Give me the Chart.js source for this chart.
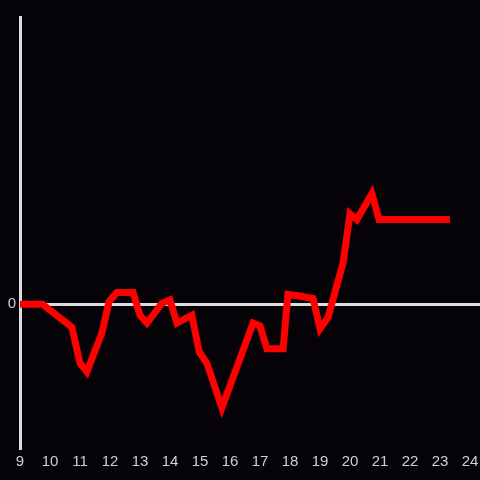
<!DOCTYPE html>
<html><head><meta charset="utf-8">
<script src="https://cdn.jsdelivr.net/npm/chart.js@4"></script>
<style>html,body{margin:0;padding:0;background:#050307;}#wrap{width:480px;height:480px;}</style>
</head><body><div id="wrap"><canvas id="c" width="480" height="480"></canvas></div>
<script>
const times = [9.0, 9.75, 10.73, 11.0, 11.23, 11.73, 11.97, 12.23, 12.77, 13.0, 13.23, 13.73, 14.0, 14.23, 14.73, 14.97, 15.23, 15.73, 16.77, 17.0, 17.23, 17.77, 17.93, 18.27, 18.77, 19.0, 19.27, 19.77, 20.0, 20.23, 20.73, 20.97, 23.33];
const values = [0, 0, -0.16, -0.41, -0.47, -0.2, 0.02, 0.083, 0.083, -0.076, -0.13, 0.007, 0.03, -0.13, -0.076, -0.33, -0.41, -0.72, -0.13, -0.15, -0.31, -0.31, 0.069, 0.06, 0.04, -0.17, -0.09, 0.29, 0.63, 0.59, 0.77, 0.59, 0.59];
const xTicks = [9,10,11,12,13,14,15,16,17,18,19,20,21,22,23,24];
const yTicks = [0];

const pts = times.map((t,i)=>({x:t,y:values[i]}));
new Chart(document.getElementById('c'), {
  type: 'line',
  data: { datasets: [{ data: pts, borderColor: '#ff0000', borderWidth: 7, pointRadius: 0, tension: 0, fill: false }] },
  options: {
    responsive: false, animation: false,
    layout: { padding: { top: 17, right: 0, left: 0, bottom: 0 } },
    plugins: { legend: { display: false }, tooltip: { enabled: false } },
    scales: {
      x: {
        type: 'linear', min: 9, max: 24 + 1/3,
        afterBuildTicks: s => { s.ticks = xTicks.map(v => ({value: v})); },
        afterFit: s => { s.height = 32; s.paddingLeft = 0; s.paddingRight = 0; },
        grid: { display: false, drawTicks: false },
        border: { display: false },
        ticks: { color: '#d0d0d0', padding: 5, maxRotation: 0, autoSkip: false, font: { family: 'Liberation Sans', size: 15 }, callback: v => String(v) }
      },
      y: {
        type: 'linear', min: -1, max: 2,
        afterBuildTicks: s => { s.ticks = yTicks.map(v => ({value: v})); },
        afterFit: s => { s.width = 20; s.paddingTop = 0; s.paddingBottom = 0; },
        grid: { color: '#dddddd', lineWidth: 3, drawTicks: false },
        border: { display: true, color: '#dddddd', width: 3 },
        ticks: { color: '#d0d0d0', padding: 4, font: { family: 'Liberation Sans', size: 15 }, callback: v => String(v) }
      }
    }
  }
});
</script></body></html>
